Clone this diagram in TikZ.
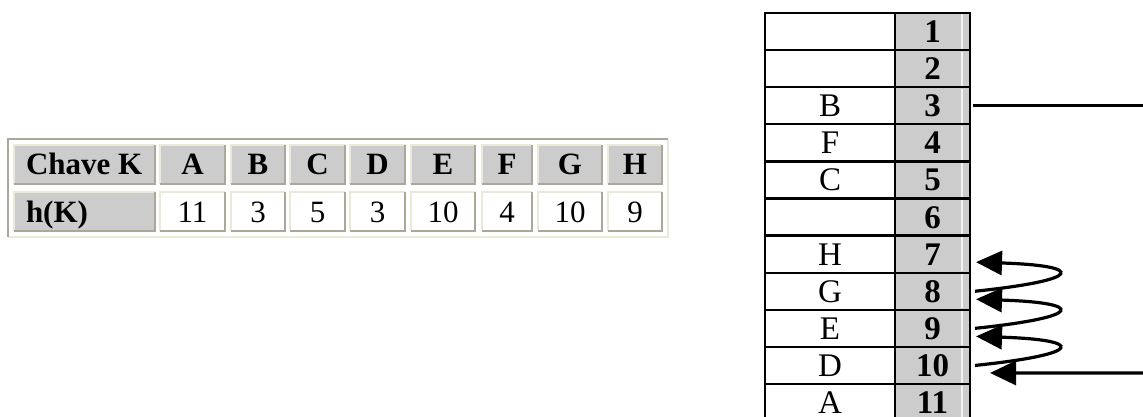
\documentclass[tikz,border=0pt]{standalone}
\usepackage{fontspec}
\setmainfont{Liberation Serif}
\usetikzlibrary{arrows.meta}
\definecolor{cellgrey}{HTML}{CCCCCC}
\definecolor{edgelight}{HTML}{ECE9D8}
\definecolor{edgedark}{HTML}{ACA899}
\newcommand\tcell[7]{%
  \node[#6, minimum width={(#3-#2)*1pt}, minimum height={(#5-#4)*1pt}] (#1) at ({(#2+#3)/2},{(#4+#5)/2}) {#7};
  \draw[edgeL] (#1.south west) |- (#1.north east);
  \draw[edgeD] (#1.south west) -| (#1.north east);
}
\newcommand\lefttext[1]{\makebox[117pt][l]{#1}}
\begin{document}
\begin{tikzpicture}[x=1pt,y=-1pt,
  every node/.style={inner sep=0pt, outer sep=0pt},
  lfont/.style={font=\fontsize{31}{33}\selectfont},
  rfont/.style={font=\fontsize{33}{35}\selectfont},
  hcell/.style={fill=cellgrey, lfont, text height=21pt, text depth=0pt},
  vcell/.style={fill=white, lfont, text height=21pt, text depth=0pt},
  edgeL/.style={draw=edgelight, line width=2.2pt},
  edgeD/.style={draw=edgedark, line width=2.2pt},
  rkey/.style={draw=black, line width=2.4pt, fill=white, rfont, minimum width=130pt, minimum height=37.1pt, text height=22pt, text depth=0pt},
  ridx/.style={draw=black, line width=2.4pt, fill=cellgrey, rfont, minimum width=75pt, minimum height=37.1pt, text height=22pt, text depth=0pt},
  stripe/.style={draw=white!75!cellgrey, line width=1.2pt, shorten >=1.5pt, shorten <=1.5pt},
  conn/.style={draw=black, line width=3.2pt},
  tip/.style={-{Triangle[length=26pt,width=24pt]}}
]
\useasboundingbox (0,0) rectangle (1143,417);
\clip (0,0) rectangle (1143,417);

% left table: outer frame
\coordinate (tl) at (8,139);
\coordinate (br) at (668,237);
\draw[edgelight, line width=2.2pt] (tl -| br) |- (br -| tl);
\draw[edgedark, line width=2.2pt] (br -| tl) |- (tl -| br);

% header row
\tcell{hk}{14}{155}{145}{184}{hcell}{\lefttext{\textbf{Chave K}}}
\tcell{hA}{160}{225}{145}{184}{hcell}{\textbf{A}}
\tcell{hB}{231}{285}{145}{184}{hcell}{\textbf{B}}
\tcell{hC}{290}{345}{145}{184}{hcell}{\textbf{C}}
\tcell{hD}{350}{405}{145}{184}{hcell}{\textbf{D}}
\tcell{hE}{411}{475}{145}{184}{hcell}{\textbf{E}}
\tcell{hF}{482}{532}{145}{184}{hcell}{\textbf{F}}
\tcell{hG}{538}{602}{145}{184}{hcell}{\textbf{G}}
\tcell{hH}{608}{662}{145}{184}{hcell}{\textbf{H}}
% value row
\tcell{vk}{14}{155}{192}{231}{hcell}{\lefttext{\textbf{h(K)}}}
\tcell{vA}{160}{225}{192}{231}{vcell}{11}
\tcell{vB}{231}{285}{192}{231}{vcell}{3}
\tcell{vC}{290}{345}{192}{231}{vcell}{5}
\tcell{vD}{350}{405}{192}{231}{vcell}{3}
\tcell{vE}{411}{475}{192}{231}{vcell}{10}
\tcell{vF}{482}{532}{192}{231}{vcell}{4}
\tcell{vG}{538}{602}{192}{231}{vcell}{10}
\tcell{vH}{608}{662}{192}{231}{vcell}{9}

% right table
\foreach \i/\k in {1/,2/,3/B,4/F,5/C,6/,7/H,8/G,9/E,10/D,11/A} {
  \pgfmathsetmacro\yc{13+37.1*(\i-1)+18.55}
  \node[rkey] (k\i) at (830,\yc) {\k};
  \node[ridx] (n\i) at (932.5,\yc) {\textbf{\i}};
  \draw[stripe] ([xshift=-8pt]n\i.north east) -- ([xshift=-8pt]n\i.south east);
}

% connectors
\coordinate (in3) at (1150,105.75);
\coordinate (in10) at (1150,373);
\draw[conn] ([xshift=3pt]n3.east) -- (in3);
\draw[conn, tip] (in10) -- ([xshift=20pt,yshift=-7.5pt]n10.east);
\draw[conn, tip] ([xshift=5pt]n8.east) .. controls +(110,-11.5) and +(109,3.5) .. ([xshift=6pt,yshift=-8pt]n7.east);
\draw[conn, tip] ([xshift=5pt]n9.east) .. controls +(110,-11.5) and +(109,3.5) .. ([xshift=6pt,yshift=-8pt]n8.east);
\draw[conn, tip] ([xshift=5pt]n10.east) .. controls +(110,-11.5) and +(109,3.5) .. ([xshift=6pt,yshift=-8pt]n9.east);
\end{tikzpicture}
\end{document}
